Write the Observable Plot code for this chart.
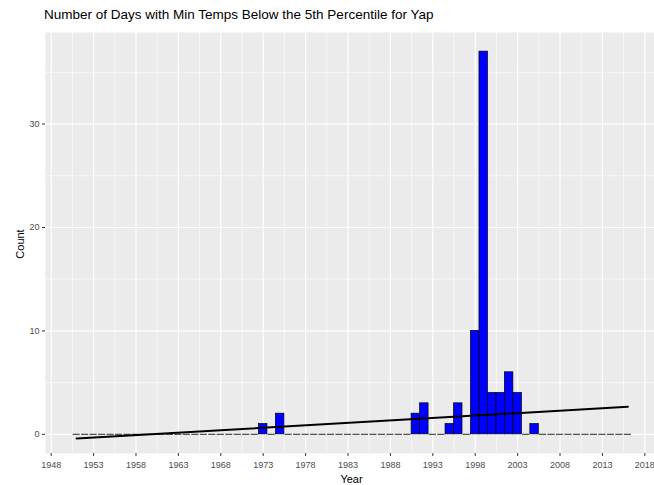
<!DOCTYPE html>
<html>
<head>
<meta charset="utf-8">
<script src="https://cdn.jsdelivr.net/npm/d3@7"></script>
<script src="https://cdn.jsdelivr.net/npm/@observablehq/plot@0.6"></script>
<style>
  html, body { margin: 0; padding: 0; background: #ffffff; overflow: hidden; }
  body { width: 654px; height: 485px; font-family: "Liberation Sans", Arial, sans-serif; }
  #title { height: 28px; position: relative; }
  #title span { position: absolute; left: 44px; top: 7px; font-size: 13.5px; color: #000; white-space: nowrap; }
</style>
</head>
<body>
<div id="title"><span>Number of Days with Min Temps Below the 5th Percentile for Yap</span></div>
<div id="chart"></div>
<script>
// ---- data ----
const barYears  = [1973, 1975, 1991, 1992, 1995, 1996, 1998, 1999, 2000, 2001, 2002, 2003, 2005];
const barCounts = [1, 2, 2, 3, 1, 3, 10, 37, 4, 4, 6, 4, 1];
const firstYear = 1951;
const lastYear  = 2016;
const trendYears  = [1951, 2016];
const trendValues = [-0.4, 2.67];
const xTicks = [1948, 1953, 1958, 1963, 1968, 1973, 1978, 1983, 1988, 1993, 1998, 2003, 2008, 2013, 2018];
const xMinor = [1950.5, 1955.5, 1960.5, 1965.5, 1970.5, 1975.5, 1980.5, 1985.5, 1990.5, 1995.5, 2000.5, 2005.5, 2010.5, 2015.5];
const yTicks = [0, 10, 20, 30];
const yMinor = [5, 15, 25, 35];
const xTitle = "Year";
const yTitle = "Count";

// tables built from the arrays
const bars = barYears.map((y, i) => ({year: y, count: barCounts[i]}));
const allYears = d3.range(firstYear, lastYear + 1);
const zeroYears = allYears.filter(y => !barYears.includes(y));
const trend = trendYears.map((y, i) => ({year: y, value: trendValues[i]}));

const chart = Plot.plot({
  width: 654,
  height: 457,
  marginLeft: 45,
  marginRight: 0,
  marginTop: 4,
  marginBottom: 32,
  style: {fontFamily: "'Liberation Sans', Arial, sans-serif", background: "transparent"},
  x: {domain: [1947.33, 2019.14]},
  y: {domain: [-1.85, 38.85]},
  marks: [
    Plot.frame({fill: "#EBEBEB", stroke: null}),
    Plot.ruleX(xMinor, {stroke: "#ffffff", strokeWidth: 0.6}),
    Plot.ruleY(yMinor, {stroke: "#ffffff", strokeWidth: 0.6}),
    Plot.ruleX(xTicks, {stroke: "#ffffff", strokeWidth: 1.2}),
    Plot.ruleY(yTicks, {stroke: "#ffffff", strokeWidth: 1.2}),
    Plot.axisX(xTicks, {tickSize: 3, tickPadding: 5, fontSize: 9, color: "#4D4D4D", stroke: "#333333", tickFormat: d => String(d), label: null}),
    Plot.axisY(yTicks, {tickSize: 3, tickPadding: 3, fontSize: 9, color: "#4D4D4D", stroke: "#333333", label: null}),
    Plot.ruleY(zeroYears, {x1: d => d - 0.42, x2: d => d + 0.42, y: () => 0, stroke: "#555555", strokeWidth: 1.3}),
    Plot.rectY(bars, {x1: d => d.year - 0.5, x2: d => d.year + 0.5, y1: 0, y2: "count", fill: "#0000FF", stroke: "#000000", strokeWidth: 0.7}),
    Plot.line(trend, {x: "year", y: "value", stroke: "#000000", strokeWidth: 2})
  ]
});
document.getElementById("chart").appendChild(chart);

// axis titles as real text
const svg = d3.select(chart);
svg.append("text")
  .attr("x", (45 + 654) / 2 + 2)
  .attr("y", 455)
  .attr("text-anchor", "middle")
  .attr("font-size", 11)
  .attr("fill", "#000")
  .text(xTitle);
svg.append("text")
  .attr("transform", "translate(24," + (244 - 28) + ") rotate(-90)")
  .attr("text-anchor", "middle")
  .attr("font-size", 11)
  .attr("fill", "#000")
  .text(yTitle);
</script>
</body>
</html>
